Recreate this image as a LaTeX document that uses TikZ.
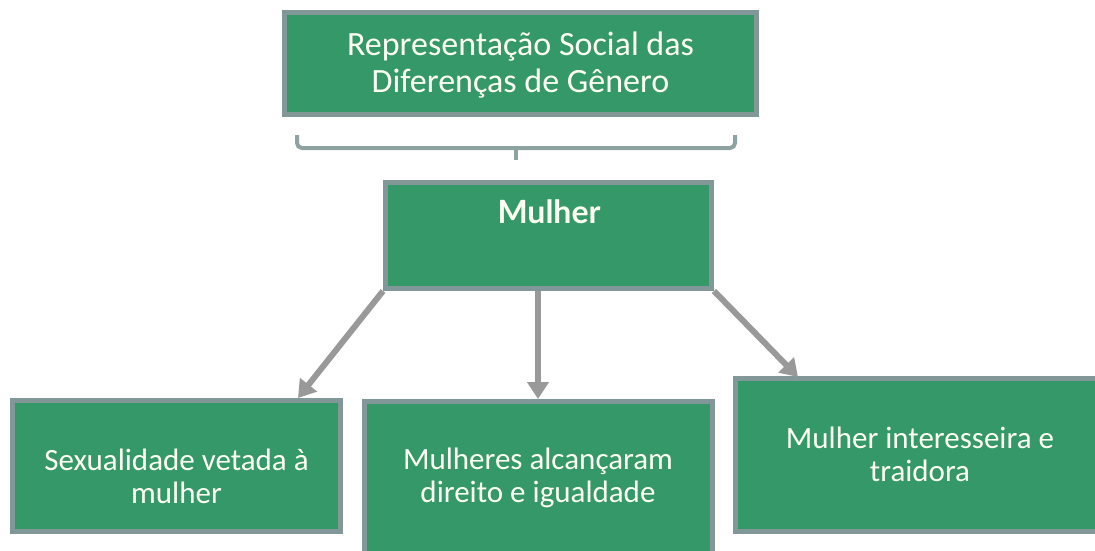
\documentclass[tikz,border=0pt]{standalone}
\usepackage{fontspec}
\setmainfont{Carlito}
\newfontfamily\latofont{Lato}
\usetikzlibrary{arrows.meta,calc}
\definecolor{boxgreen}{RGB}{52,152,104}
\definecolor{boxborder}{RGB}{130,152,152}
\definecolor{arrowgray}{RGB}{153,153,153}
\definecolor{txtwhite}{RGB}{255,255,246}
\tikzset{
  gbox/.style={draw=boxborder, line width=5pt, fill=boxgreen, rectangle, anchor=north west, inner sep=0pt},
  btext/.style={text=txtwhite, align=center, anchor=base, inner sep=0pt, font=\fontsize{31}{33}\selectfont},
  ttext/.style={text=txtwhite, align=center, anchor=base, inner sep=0pt, font=\fontsize{34}{37}\selectfont},
  conn/.style={draw=arrowgray, line width=6pt, -{Triangle[width=21pt,length=17pt]}},
  bracestyle/.style={draw=boxborder!90, line width=4pt, rounded corners=5pt}
}
\begin{document}
\begin{tikzpicture}[x=1pt,y=-1pt]
\useasboundingbox (0,0) rectangle (1095,550);
\clip (0,0) rectangle (1095,550);
% boxes (anchors lie on the outer edge of the border)
\node[gbox, minimum width=472pt, minimum height=102pt] (top) at (282,10) {};
\node[gbox, minimum width=326pt, minimum height=106pt] (mulher) at (383,180) {};
\node[gbox, minimum width=328pt, minimum height=131pt] (sex) at (10,398) {};
\node[gbox, minimum width=348pt, minimum height=170pt] (dir) at (362,399) {};
\node[gbox, minimum width=380pt, minimum height=153pt] (int) at (733,376) {};
% texts (base = baseline of last line)
\node[ttext] (topT) at (520.5,92) {Representação Social das\\Diferenças de Gênero};
\node[text=txtwhite, anchor=base, inner sep=0pt, font=\latofont\bfseries\fontsize{32}{36}\selectfont] (mulherT) at (549,223) {Mulher};
\node[btext] (sexT) at (176.5,503) {Sexualidade vetada à\\mulher};
\node[btext] (dirT) at (538,502) {Mulheres alcançaram\\direito e igualdade};
\node[btext] (intT) at (920,481) {Mulher interesseira e\\traidora};
% brace
\coordinate (bl) at (297,135);
\coordinate (br) at (735,135);
\coordinate (bm) at (516,148);
\coordinate (bt) at (516,160);
\draw[bracestyle] (bl) |- (bm) -| (br);
\draw[draw=boxborder!90, line width=4pt] (bm) -- (bt);
% connectors
\coordinate (sexIn) at ($(sex.north west)+(288,0)$);
\coordinate (dirIn) at ($(dir.north west)+(176,0)$);
\coordinate (intIn) at ($(int.north west)+(65,1)$);
\draw[conn] (mulher.south west) -- (sexIn);
\draw[conn] (mulher.south -| dirIn) -- (dirIn);
\draw[conn] (mulher.south east) -- (intIn);
\end{tikzpicture}
\end{document}
